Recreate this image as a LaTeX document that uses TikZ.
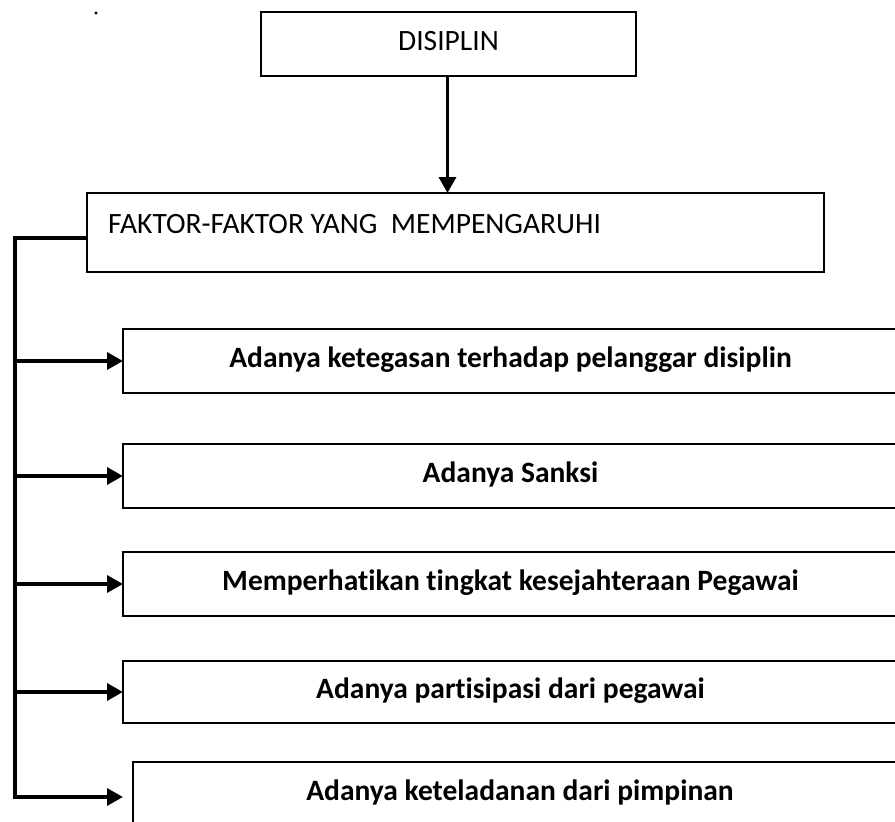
\documentclass[tikz,border=0pt]{standalone}
\usepackage{fontspec}
\setmainfont{Carlito}[Ligatures=NoCommon]
\usetikzlibrary{arrows.meta}
\begin{document}
\begin{tikzpicture}[x=1pt,y=-1pt,
  box/.style={draw,line width=1.5pt,inner sep=0pt,outer sep=0pt,anchor=north west,
    text height=19pt,text depth=6pt,font=\fontsize{29.5}{35}\selectfont},
  bbox/.style={box,font=\fontsize{29.5}{35}\selectfont\bfseries,minimum height=64pt},
  conn/.style={line width=3.5pt},
  arr/.style={line width=3.5pt,-{Triangle[length=16pt,width=17pt]}}]
\useasboundingbox (0,0) rectangle (895,822);
\clip (0,0) rectangle (895,822);
\fill (96,13) circle (1.7pt);
\node[box,minimum width=375pt,minimum height=64pt] (d) at (261,12) {DISIPLIN};
\node[box,minimum width=737pt,minimum height=79pt] (f) at (87,193) {};
\node[anchor=base west,inner sep=0pt,font=\fontsize{29.5}{35}\selectfont] (ft) at (108,233) {FAKTOR-FAKTOR YANG\ \ MEMPENGARUHI};
\node[bbox,minimum width=775pt] (b1) at (123,329) {Adanya ketegasan terhadap pelanggar disiplin};
\node[bbox,minimum width=775pt] (b2) at (123,444) {Adanya Sanksi};
\node[bbox,minimum width=775pt] (b3) at (123,552) {Memperhatikan tingkat kesejahteraan Pegawai};
\node[bbox,minimum width=775pt,minimum height=62pt] (b4) at (123,661) {Adanya partisipasi dari pegawai};
\node[bbox,minimum width=774pt] (b5) at (133,762) {Adanya keteladanan dari pimpinan};
\draw[arr] (d.south -| 447.5,0) -- (f.north -| 447.5,0);
\coordinate (tk) at (15,0);
\coordinate (f0) at ([yshift=-5.5pt]f.west);
\coordinate (e5) at ([xshift=-10pt,yshift=-3pt]b5.west);
\coordinate (j5) at (e5 -| tk);
\draw[conn] (f0) -| (j5);
\draw[arr] ([xshift=-1.75pt]j5) -- (e5);
\coordinate (j1) at (b1.west -| tk);
\coordinate (j2) at (b2.west -| tk);
\coordinate (j3) at (b3.west -| tk);
\coordinate (j4) at (b4.west -| tk);
\draw[arr] (j1) -- (b1.west);
\draw[arr] (j2) -- (b2.west);
\draw[arr] (j3) -- (b3.west);
\draw[arr] (j4) -- (b4.west);
\end{tikzpicture}
\end{document}
